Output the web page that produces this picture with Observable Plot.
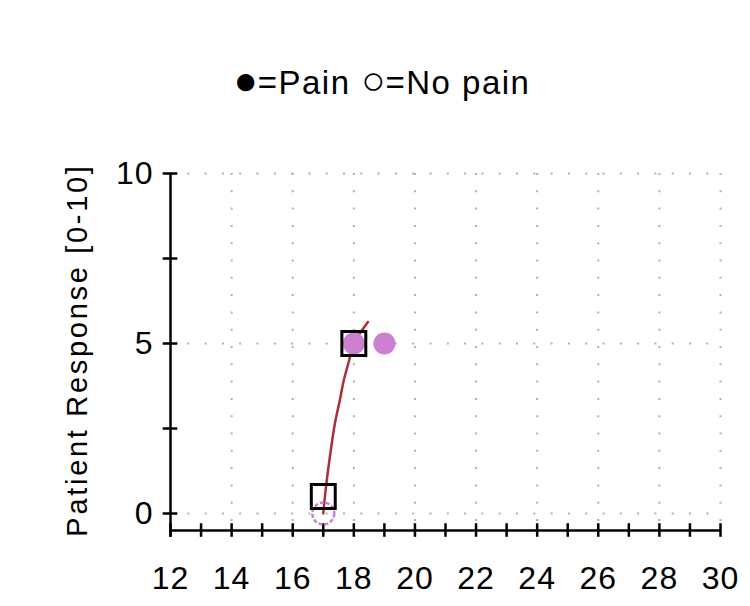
<!DOCTYPE html>
<html>
<head>
<meta charset="utf-8">
<script src="https://cdn.jsdelivr.net/npm/d3@7"></script>
<script src="https://cdn.jsdelivr.net/npm/@observablehq/plot@0.6"></script>
<style>
  html, body { margin: 0; padding: 0; background: #fff; }
  #wrap { width: 750px; height: 606px; position: relative; overflow: hidden; }
  #title { box-sizing: border-box; height: 130px; padding-top: 60px; line-height: 40px; padding-left: 14px;
           text-align: center; font-family: "Liberation Sans", Arial, sans-serif; font-size: 33px;
           letter-spacing: 1.5px; color: #000; white-space: pre; }
  #title .sym { font-size: 40px; letter-spacing: 0; }
  #ylabel { position: absolute; left: 77px; top: 350px; transform: translate(-50%, -50%) rotate(-90deg);
            font-family: "Liberation Sans", Arial, sans-serif; font-size: 29px; letter-spacing: 2.7px;
            white-space: nowrap; color: #000; line-height: 1; }
  svg { display: block; }
  svg text { letter-spacing: 1px; }
</style>
</head>
<body>
<div id="wrap">
  <div id="title"></div>
  <div id="chart"></div>
  <div id="ylabel"></div>
</div>
<script>
// Text
const titleParts = [["●", true], ["=Pain ", false], ["○", true], ["=No pain", false]];
const yLabel = "Patient Response [0-10]";

// Tick labels
const xTickLabels = [12, 14, 16, 18, 20, 22, 24, 26, 28, 30];
const xMinorTicks = [12, 13, 14, 15, 16, 17, 18, 19, 20, 21, 22, 23, 24, 25, 26, 27, 28, 29, 30];
const xGridLines = [14, 16, 18, 20, 22, 24, 26, 28, 30];
const yTickLabels = [0, 5, 10];
const yMinorTicks = [0, 2.5, 5, 7.5, 10];

// Observations: squares (stimulus/response), pain (filled), no pain (open)
const squareX = [17, 18];
const squareY = [0.5, 5];
const painX = [18, 19];
const painY = [5, 5];
const noPainX = [17];
const noPainY = [0];

// Fitted curve
const curveX = [17.0, 17.10, 17.26, 17.40, 17.54, 17.67, 17.83, 18.00, 18.22, 18.46];
const curveY = [0.0, 0.87, 1.95, 2.74, 3.32, 3.91, 4.45, 4.99, 5.33, 5.63];

const squares = squareX.map((x, i) => ({x, y: squareY[i]}));
const pain = painX.map((x, i) => ({x, y: painY[i]}));
const noPain = noPainX.map((x, i) => ({x, y: noPainY[i]}));
const curve = curveX.map((x, i) => ({x, y: curveY[i]}));

const titleEl = document.getElementById("title");
for (const [t, isSym] of titleParts) {
  const s = document.createElement("span");
  if (isSym) s.className = "sym";
  s.textContent = t;
  titleEl.appendChild(s);
}
document.getElementById("ylabel").textContent = yLabel;

const xMin = 12, xMax = 30, yAxisBase = -0.5, yAxisEnd = -0.7;
const font = '"Liberation Sans", Arial, sans-serif';
const magenta = "#cc80d2";

const chart = Plot.plot({
  width: 750,
  height: 476,
  marginLeft: 170,
  marginRight: 30,
  marginTop: 43,
  marginBottom: 76,
  style: {fontFamily: font, background: "#fff", overflow: "visible"},
  x: {domain: [xMin, xMax], axis: null},
  y: {domain: [yAxisBase, 10], axis: null},
  marks: [
    // dotted grid
    Plot.ruleX(xGridLines, {x: d => d, y1: 10, y2: yAxisBase, stroke: "#b0b0b0", strokeWidth: 2, strokeDasharray: "2,15.3"}),
    Plot.ruleY(yTickLabels, {y: d => d, x1: xMin, x2: xMax, stroke: "#b0b0b0", strokeWidth: 2, strokeDasharray: "2,15.3"}),
    // axes
    Plot.ruleY([yAxisBase], {y: d => d, x1: xMin, x2: xMax, stroke: "#000", strokeWidth: 2.5}),
    Plot.ruleX([xMin], {x: d => d, y1: yAxisEnd, y2: 10, stroke: "#000", strokeWidth: 2.5}),
    Plot.ruleX(xMinorTicks, {x: d => d, y1: yAxisBase - 0.2, y2: yAxisBase + 0.2, stroke: "#000", strokeWidth: 2.5}),
    Plot.ruleY(yMinorTicks, {y: d => d, x1: xMin - 0.24, x2: xMin + 0.24, stroke: "#000", strokeWidth: 2.5}),
    Plot.text(xTickLabels, {x: d => d, y: yAxisBase, dy: 48, text: d => String(d), fontSize: 32, fill: "#000"}),
    Plot.text(yTickLabels, {x: xMin, y: d => d, dx: -17, text: d => String(d), textAnchor: "end", fontSize: 32, fill: "#000"}),
    // data
    Plot.line(curve, {x: "x", y: "y", stroke: "#a83038", strokeWidth: 2.5, curve: "natural"}),
    Plot.dot(pain, {x: "x", y: "y", r: 11, fill: magenta, stroke: "none"}),
    Plot.dot(noPain, {x: "x", y: "y", r: 11, fill: "none", stroke: magenta, strokeWidth: 2.5, strokeDasharray: "4,2"}),
    Plot.dot(squares, {x: "x", y: "y", r: 13.5, symbol: "square", fill: "none", stroke: "#000", strokeWidth: 3})
  ]
});
document.getElementById("chart").appendChild(chart);
</script>
</body>
</html>
